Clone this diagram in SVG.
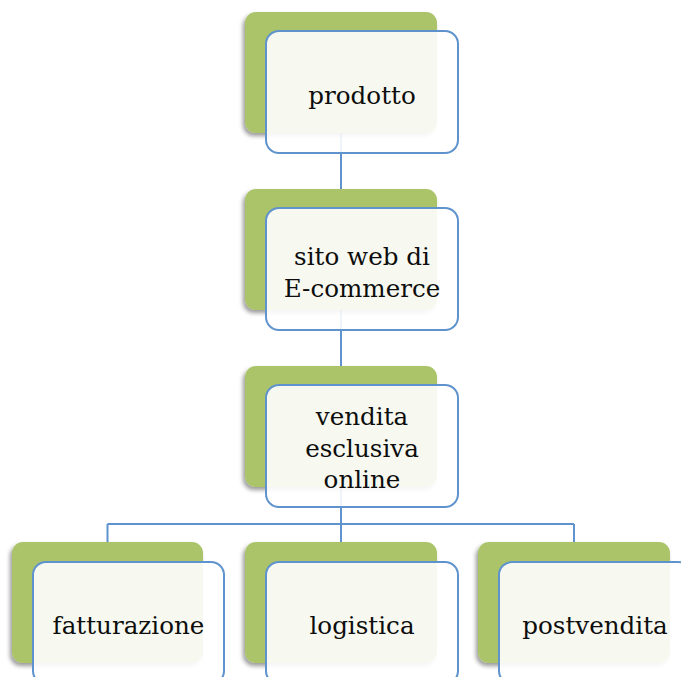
<svg xmlns="http://www.w3.org/2000/svg" width="681" height="677" viewBox="0 0 681 677">
<defs>
<filter id="sh" x="-20%" y="-20%" width="140%" height="140%">
<feDropShadow dx="-2" dy="3" stdDeviation="2" flood-color="#000" flood-opacity="0.4"/>
</filter>
<style>
.back{fill:#abc46b;filter:url(#sh)}
.front{fill:#ffffff;fill-opacity:0.9;stroke:#5f93cd;stroke-width:2}
.lbl{font-family:"DejaVu Serif","Liberation Serif",serif;font-size:24.6px;fill:#0d0d0d;text-anchor:middle}
.con{stroke:#5f93cd;stroke-width:2;fill:none}
</style>
</defs>
<rect width="681" height="677" fill="#fff"/>
<g id="connectors">
<path class="con" d="M341 92V446"/>
<path class="con" d="M107.5 524H574M107.5 524V560M341 446V560M574 524V560"/>
</g>
<g id="node-prodotto">
<rect class="back" x="245" y="12" width="192" height="121" rx="11"/>
<rect class="front" x="266" y="31" width="192" height="122" rx="13"/>
<text class="lbl" x="362" y="104">prodotto</text>
</g>
<g id="node-sito">
<rect class="back" x="245" y="189" width="192" height="121" rx="11"/>
<rect class="front" x="266" y="208" width="192" height="122" rx="13"/>
<text class="lbl" x="362" y="265">sito web di</text>
<text class="lbl" x="362" y="297">E-commerce</text>
</g>
<g id="node-vendita">
<rect class="back" x="245" y="366" width="192" height="121" rx="11"/>
<rect class="front" x="266" y="385" width="192" height="122" rx="13"/>
<text class="lbl" x="362" y="425">vendita</text>
<text class="lbl" x="362" y="457">esclusiva</text>
<text class="lbl" x="362" y="488">online</text>
</g>
<g id="node-fatturazione">
<rect class="back" x="12" y="542" width="191" height="121" rx="11"/>
<rect class="front" x="33" y="562" width="191" height="122" rx="13"/>
<text class="lbl" x="128.5" y="634">fatturazione</text>
</g>
<g id="node-logistica">
<rect class="back" x="245" y="542" width="192" height="121" rx="11"/>
<rect class="front" x="266" y="562" width="192" height="122" rx="13"/>
<text class="lbl" x="362" y="634">logistica</text>
</g>
<g id="node-postvendita">
<rect class="back" x="478" y="542" width="192" height="121" rx="11"/>
<rect class="front" x="499" y="562" width="192" height="122" rx="13"/>
<text class="lbl" x="595" y="634">postvendita</text>
</g>
</svg>
